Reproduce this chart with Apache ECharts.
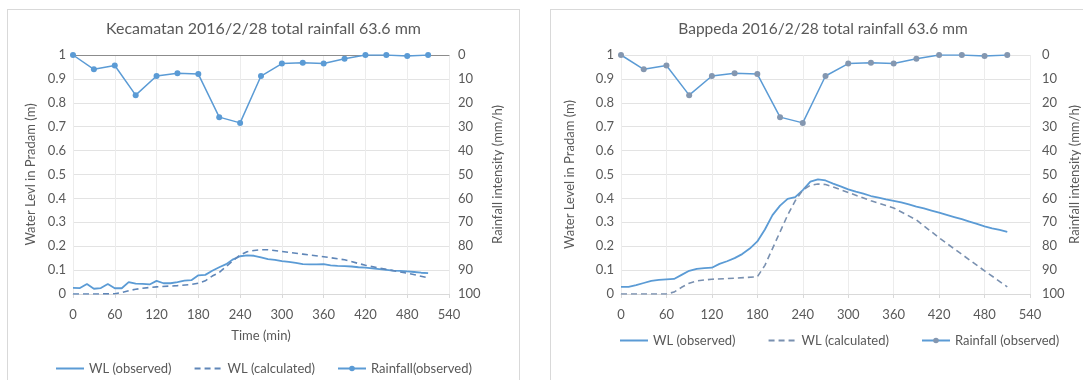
<!DOCTYPE html>
<html>
<head>
<meta charset="utf-8">
<script src="https://cdn.jsdelivr.net/npm/echarts@6/dist/echarts.min.js"></script>
<style>
    html, body { margin: 0; padding: 0; background: #fff; width: 1083px; height: 380px; overflow: hidden; }
    .box { position: absolute; box-sizing: border-box; border: 1px solid #d9d9d9; background: #fff; }
    #kec { left: 7px; top: 9px; width: 513px; height: 380px; }
    #bap { left: 550px; top: 9px; width: 546px; height: 380px; }
</style>
</head>
<body>
<div id="kec" class="box"></div>
<div id="bap" class="box"></div>
<script>
// rainfall (same gauge for both plots), mm/h every 30 min
const rainTime = [0, 30, 60, 90, 120, 150, 180, 210, 240, 270, 300, 330, 360, 390, 420, 450, 480, 510];
const rainfall = [0, 6, 4.4, 16.8, 8.8, 7.6, 8, 26, 28.4, 8.8, 3.6, 3.2, 3.6, 1.6, 0, 0, 0.4, 0];

// observed water level, every 10 min
const wlTime = [0, 10, 20, 30, 40, 50, 60, 70, 80, 90, 100, 110, 120, 130, 140, 150, 160, 170, 180, 190,
    200, 210, 220, 230, 240, 250, 260, 270, 280, 290, 300, 310, 320, 330, 340, 350, 360, 370, 380, 390,
    400, 410, 420, 430, 440, 450, 460, 470, 480, 490, 500, 510];
const kecWlObs = [0.026, 0.025, 0.042, 0.022, 0.025, 0.042, 0.024, 0.024, 0.05, 0.043, 0.042, 0.04, 0.055,
    0.045, 0.045, 0.05, 0.056, 0.058, 0.078, 0.08, 0.097, 0.112, 0.125, 0.145, 0.158, 0.162, 0.16, 0.153,
    0.146, 0.143, 0.138, 0.134, 0.13, 0.125, 0.124, 0.124, 0.125, 0.12, 0.118, 0.117, 0.115, 0.112, 0.11,
    0.107, 0.104, 0.101, 0.098, 0.097, 0.095, 0.092, 0.089, 0.087];
const bapWlObs = [0.03, 0.03, 0.037, 0.046, 0.055, 0.059, 0.061, 0.063, 0.08, 0.097, 0.105, 0.108, 0.11,
    0.126, 0.137, 0.15, 0.167, 0.19, 0.22, 0.27, 0.33, 0.37, 0.398, 0.405, 0.435, 0.47, 0.48, 0.475, 0.462,
    0.45, 0.438, 0.428, 0.42, 0.41, 0.403, 0.396, 0.39, 0.383, 0.375, 0.366, 0.358, 0.349, 0.34, 0.331,
    0.322, 0.313, 0.303, 0.293, 0.283, 0.275, 0.268, 0.26];

// calculated water level
const kecCalcTime = [0, 30, 60, 70, 80, 90, 100, 120, 150, 170, 180, 190, 200, 210, 220, 230, 240, 250, 260,
    270, 280, 300, 330, 360, 390, 420, 450, 480, 510];
const kecWlCalc = [0, 0, 0.001, 0.006, 0.014, 0.02, 0.024, 0.03, 0.035, 0.04, 0.045, 0.055, 0.075, 0.09,
    0.115, 0.14, 0.163, 0.177, 0.182, 0.185, 0.185, 0.178, 0.167, 0.156, 0.143, 0.12, 0.103, 0.087, 0.068];
const bapCalcTime = [0, 30, 60, 70, 80, 90, 100, 120, 150, 180, 190, 200, 210, 220, 230, 240, 250, 260, 270,
    280, 300, 330, 360, 390, 420, 450, 480, 510];
const bapWlCalc = [0, 0, 0, 0.008, 0.028, 0.045, 0.055, 0.062, 0.066, 0.072, 0.12, 0.19, 0.26, 0.33, 0.39,
    0.435, 0.455, 0.46, 0.458, 0.448, 0.425, 0.39, 0.36, 0.31, 0.235, 0.166, 0.097, 0.03];

const grey = '#595959';
const blue = '#5b9bd5';

function pairs (xs, ys) {
    return xs.map((x, i) => [x, ys[i]]);
}

function buildOption (c) {
    return {
        animation: false,
        textStyle: { fontFamily: 'Lato' },
        title: {
            text: c.title,
            left: 'center',
            top: 11,
            padding: 0,
            textStyle: { fontSize: c.titleSize, fontWeight: 'normal', color: grey }
        },
        legend: {
            // WL lines have no marker in the legend, rainfall keeps its dot
            data: [
                { name: c.names[0], itemStyle: { opacity: 0 } },
                { name: c.names[1], itemStyle: { opacity: 0 } },
                { name: c.names[2] }
            ],
            left: c.legendLeft,
            top: c.legendTop,
            padding: 0,
            itemGap: c.legendGap,
            itemWidth: 28,
            itemHeight: 7,
            textStyle: { color: grey, fontSize: 13 }
        },
        grid: { left: c.gridLeft, top: 45, width: c.gridWidth, height: 239 },
        xAxis: [{
            type: 'value',
            min: 0,
            max: 540,
            interval: 60,
            name: c.xName,
            nameLocation: 'middle',
            nameGap: 35,
            nameTextStyle: { color: grey, fontSize: 13 },
            axisLine: { lineStyle: { color: '#d9d9d9' } },
            axisTick: { show: true, length: 4, lineStyle: { color: '#d9d9d9' } },
            axisLabel: { color: grey, fontSize: 13, margin: 14 },
            splitLine: { show: true, lineStyle: { color: '#ececec' } }
        }, {
            // dark line along the top (rainfall origin)
            type: 'value',
            position: 'top',
            min: 0,
            max: 540,
            show: c.topLine,
            axisLine: { show: true, onZero: false, lineStyle: { color: '#8c8c8c' } },
            axisTick: { show: false },
            axisLabel: { show: false },
            splitLine: { show: false }
        }],
        yAxis: [{
            type: 'value',
            min: 0,
            max: 1,
            interval: 0.1,
            name: c.yName,
            nameLocation: 'middle',
            nameGap: c.yNameGap,
            nameTextStyle: { color: grey, fontSize: 13 },
            axisLine: { show: false },
            axisTick: { show: false },
            axisLabel: { color: grey, fontSize: 13, margin: 7 },
            splitLine: { lineStyle: { color: '#e3e3e3' } }
        }, {
            type: 'value',
            min: 0,
            max: 100,
            interval: 10,
            inverse: true,
            position: 'right',
            name: 'Rainfall intensity (mm/h)',
            nameLocation: 'middle',
            nameRotate: 90,
            nameGap: c.rightNameGap,
            nameMoveOverlap: false,
            nameTextStyle: { color: grey, fontSize: 13 },
            axisLine: { show: false },
            axisTick: { show: false },
            axisLabel: { color: grey, fontSize: 13, margin: c.rightMargin },
            splitLine: { show: false }
        }],
        series: [{
            name: c.names[0],
            type: 'line',
            data: pairs(wlTime, c.obs),
            symbol: 'none',
            lineStyle: { color: blue, width: 1.8 },
            itemStyle: { color: blue }
        }, {
            name: c.names[1],
            type: 'line',
            data: pairs(c.calcTime, c.calc),
            symbol: 'none',
            lineStyle: { color: c.calcColor, width: 1.6, type: [6, 4] },
            itemStyle: { color: c.calcColor }
        }, {
            name: c.names[2],
            type: 'line',
            yAxisIndex: 1,
            data: pairs(rainTime, rainfall),
            symbol: 'circle',
            symbolSize: 6,
            lineStyle: { color: blue, width: 1.5 },
            itemStyle: { color: c.markColor },
            z: 5
        }]
    };
}

const kecChart = echarts.init(document.getElementById('kec'));
kecChart.setOption(buildOption({
    title: 'Kecamatan 2016/2/28 total rainfall 63.6 mm',
    titleSize: 16,
    names: ['WL (observed)', 'WL (calculated)', 'Rainfall(observed)'],
    legendLeft: 'center',
    legendTop: 352,
    legendGap: 22,
    gridLeft: 65,
    gridWidth: 376,
    xName: 'Time (min)',
    yName: 'Water Levl in Pradam (m)',
    yNameGap: 36,
    rightNameGap: 42,
    rightMargin: 9,
    topLine: true,
    obs: kecWlObs,
    calcTime: kecCalcTime,
    calc: kecWlCalc,
    calcColor: '#5f86b8',
    markColor: blue
}));

const bapChart = echarts.init(document.getElementById('bap'));
bapChart.setOption(buildOption({
    title: 'Bappeda 2016/2/28 total rainfall 63.6 mm',
    titleSize: 15.5,
    names: ['WL (observed)', 'WL (calculated)', 'Rainfall (observed)'],
    legendLeft: 68,
    legendTop: 324,
    legendGap: 32,
    gridLeft: 70,
    gridWidth: 409,
    xName: '',
    yName: 'Water Level in Pradam (m)',
    yNameGap: 45,
    rightNameGap: 38,
    rightMargin: 12,
    topLine: false,
    obs: bapWlObs,
    calcTime: bapCalcTime,
    calc: bapWlCalc,
    calcColor: '#7990b0',
    markColor: '#8497b0'
}));
</script>
</body>
</html>
